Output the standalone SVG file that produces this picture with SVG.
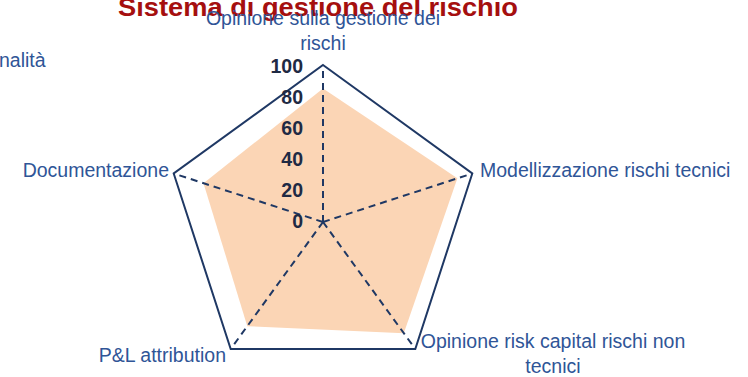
<svg xmlns="http://www.w3.org/2000/svg" width="748" height="377" viewBox="0 0 748 377">
<style>
.title{font-family:"Liberation Sans",Arial,sans-serif;font-weight:bold;font-size:25px;fill:#A50F0F}
.cat{font-family:"Liberation Sans",Arial,sans-serif;font-size:19.5px;fill:#2F5597}
.tick{font-family:"Liberation Sans",Arial,sans-serif;font-weight:bold;font-size:19.5px;fill:#1F2A44;text-anchor:end}
.grid{fill:none;stroke:#1F3864;stroke-width:2}
.axis{stroke:#1F3864;stroke-width:2;stroke-dasharray:7,5}
</style>
<rect width="748" height="377" fill="#fff"/>
<g id="data">
<polygon points="323,88.5 457.4,178.3 403.8,333.2 247.3,326.2 203.5,183.2" fill="#FBD5B5"/>
</g>
<g id="grid">
<polygon class="grid" points="323,65 472.3,173.5 415.3,349 230.7,349 173.7,173.5"/>
</g>
<g id="connectors">
<line class="axis" x1="323" y1="222" x2="323" y2="65"/>
<line class="axis" x1="323" y1="222" x2="472.3" y2="173.5"/>
<line class="axis" x1="323" y1="222" x2="415.3" y2="349"/>
<line class="axis" x1="323" y1="222" x2="230.7" y2="349"/>
<line class="axis" x1="323" y1="222" x2="173.7" y2="173.5"/>
</g>
<g id="ticks">
<text class="tick" x="303" y="73">100</text>
<text class="tick" x="303" y="104">80</text>
<text class="tick" x="303" y="135">60</text>
<text class="tick" x="303" y="166">40</text>
<text class="tick" x="303" y="197">20</text>
<text class="tick" x="303" y="228">0</text>
</g>
<g id="title">
<text class="title" x="318" y="16" text-anchor="middle" textLength="400" lengthAdjust="spacingAndGlyphs">Sistema di gestione del rischio</text>
</g>
<g id="label-top">
<text class="cat" x="323" y="25" text-anchor="middle">Opinione sulla gestione dei</text>
<text class="cat" x="323" y="50" text-anchor="middle">rischi</text>
</g>
<g id="label-right">
<text class="cat" x="480" y="177">Modellizzazione rischi tecnici</text>
</g>
<g id="label-br">
<text class="cat" x="553" y="348" text-anchor="middle">Opinione risk capital rischi non</text>
<text class="cat" x="553" y="373" text-anchor="middle">tecnici</text>
</g>
<g id="label-bl">
<text class="cat" x="226" y="362" text-anchor="end">P&amp;L attribution</text>
</g>
<g id="label-left">
<text class="cat" x="169" y="177" text-anchor="end">Documentazione</text>
</g>
<g id="label-clipped">
<text class="cat" x="-1" y="67">nalità</text>
</g>
</svg>
